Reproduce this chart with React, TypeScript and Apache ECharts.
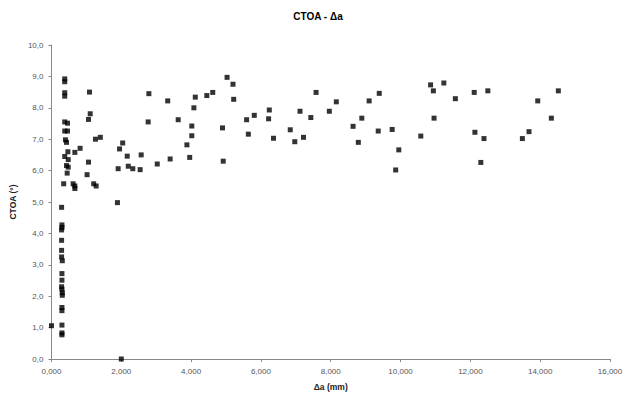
import React, { useEffect, useRef } from "react";
import * as echarts from "echarts";

// Δa (mm) values
const deltaA: number[] = [
  // dense column near the origin
  0.0, 0.30, 0.30, 0.30, 0.30, 0.30, 0.31, 0.31, 0.30, 0.29, 0.30, 0.30, 0.31, 0.29, 0.29, 0.29, 0.29, 0.30, 0.30, 0.29,
  // cluster 0.3 – 1.4 mm, above 5
  0.38, 0.38, 0.38, 0.38, 1.09, 1.11, 1.06, 0.38, 0.46, 0.38, 0.46, 0.40, 0.43, 1.26, 1.40, 0.82, 0.67, 0.47, 0.38, 0.48,
  1.06, 0.43, 0.48, 0.45, 1.02, 0.35, 0.62, 0.67, 0.67, 1.21, 1.28,
  // around 2 mm
  1.89, 2.00, 2.79, 2.77, 2.04, 1.95, 2.17, 2.57, 3.03, 1.91, 2.20, 2.33, 2.54,
  // 3 – 8 mm
  3.40, 3.33, 3.63, 3.88, 3.96, 4.02, 4.02, 4.08, 4.12, 4.45, 4.62, 4.90, 4.92, 5.03, 5.20, 5.22, 5.59, 5.64, 5.81, 6.24,
  6.22, 6.36, 6.84, 6.97, 7.22, 7.12, 7.43, 7.58, 7.96, 8.16,
  // 8.5 – 15 mm
  8.64, 8.79, 8.89, 9.10, 9.39, 9.36, 9.76, 9.95, 9.86, 10.58, 10.86, 10.94, 11.24, 10.96, 11.57, 12.11, 12.50, 12.13, 12.39, 12.30,
  13.49, 13.68, 13.93, 14.32, 14.52,
];

// CTOA (°) values, same order
const ctoa: number[] = [
  1.06, 0.77, 0.83, 1.08, 1.54, 1.64, 2.03, 2.11, 2.22, 2.30, 2.51, 2.72, 3.13, 3.25, 3.46, 3.78, 4.11, 4.19, 4.27, 4.83,
  8.92, 8.83, 8.48, 8.37, 8.50, 7.81, 7.63, 7.55, 7.51, 7.26, 7.26, 6.98, 6.90, 7.00, 7.06, 6.71, 6.58, 6.60, 6.45, 6.35,
  6.27, 6.16, 6.11, 5.92, 5.87, 5.58, 5.58, 5.51, 5.43, 5.58, 5.51,
  4.98, 0.0, 8.45, 7.55, 6.88, 6.69, 6.46, 6.50, 6.21, 6.06, 6.14, 6.06, 6.03,
  6.37, 8.22, 7.62, 6.82, 6.42, 7.11, 7.42, 8.00, 8.34, 8.39, 8.49, 7.36, 6.30, 8.97, 8.75, 8.27, 7.62, 7.16, 7.76, 7.93,
  7.65, 7.03, 7.30, 6.92, 7.06, 7.89, 7.69, 8.49, 7.89, 8.19,
  7.41, 6.90, 7.67, 8.22, 8.46, 7.26, 7.31, 6.66, 6.02, 7.10, 8.73, 8.54, 8.79, 7.67, 8.29, 8.49, 8.54, 7.22, 7.02, 6.26,
  7.02, 7.24, 8.22, 7.67, 8.54,
];

const titleText = "CTOA - \u0394a";
const xName = "\u0394a (mm)";
const yName = "CTOA (\u00b0)";

const FONT = "'Liberation Sans', Arial, sans-serif";

export default function App() {
  const ref = useRef<HTMLDivElement>(null);
  useEffect(() => {
    if (!ref.current) return;
    const chart = echarts.init(ref.current, undefined, { renderer: "svg" });
    const data = deltaA.map((x, i) => [x, ctoa[i]]);
    chart.setOption({
      animation: false,
      backgroundColor: "#ffffff",
      title: {
        text: titleText,
        left: 313,
        textAlign: "center",
        top: 6,
        textStyle: { fontFamily: FONT, fontSize: 10, fontWeight: "bold", color: "#000" },
      },
      grid: { left: 49, right: 25, top: 45, bottom: 34, containLabel: false },
      xAxis: {
        type: "value",
        min: 0,
        max: 16,
        interval: 2,
        name: xName,
        nameLocation: "middle",
        nameGap: 23,
        nameTextStyle: { fontFamily: FONT, fontSize: 8.5, fontWeight: "bold", color: "#222" },
        axisLine: { show: true, lineStyle: { color: "#888", width: 1 } },
        axisTick: { show: true, length: 3, lineStyle: { color: "#888" } },
        axisLabel: {
          fontFamily: FONT,
          fontSize: 8,
          color: "#555",
          margin: 8,
          formatter: (v: number) => v.toFixed(3).replace(".", ","),
        },
        splitLine: { show: false },
      },
      yAxis: {
        type: "value",
        min: 0,
        max: 10,
        interval: 1,
        name: yName,
        nameLocation: "middle",
        nameGap: 28,
        nameRotate: 90,
        nameTextStyle: { fontFamily: FONT, fontSize: 8.5, fontWeight: "bold", color: "#222" },
        axisLine: { show: true, lineStyle: { color: "#888", width: 1 } },
        axisTick: { show: true, length: 3, lineStyle: { color: "#888" } },
        axisLabel: {
          fontFamily: FONT,
          fontSize: 8,
          color: "#555",
          margin: 8,
          formatter: (v: number) => v.toFixed(1).replace(".", ","),
        },
        splitLine: { show: false },
      },
      series: [
        {
          type: "scatter",
          symbol: "rect",
          symbolSize: 5,
          itemStyle: { color: "#000" },
          data,
        },
      ],
    });
    return () => chart.dispose();
  }, []);
  return (
    <div
      ref={ref}
      style={{ position: "fixed", left: 0, top: 0, width: 635, height: 396, background: "#fff" }}
    />
  );
}
